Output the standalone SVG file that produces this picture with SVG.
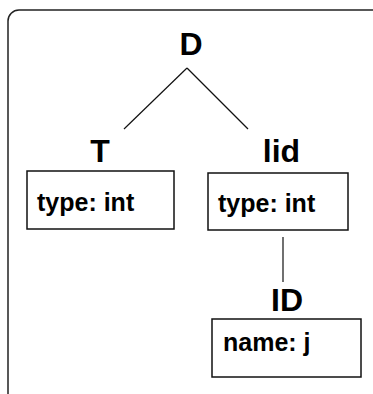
<svg xmlns="http://www.w3.org/2000/svg" width="373" height="394" viewBox="0 0 373 394">
  <style>
    .label { font-family: "Liberation Sans", Arial, Helvetica, sans-serif; font-weight: bold; font-size: 32px; fill: #000; text-anchor: middle; }
    .attr { font-family: "Liberation Sans", Arial, Helvetica, sans-serif; font-weight: bold; font-size: 25px; fill: #000; }
    .box { fill: #fff; stroke: #111; stroke-width: 1.5; }
    .edge { stroke: #111; stroke-width: 1.2; fill: none; }
  </style>
  <rect width="373" height="394" fill="#fff"/>
  <!-- outer frame, running off the right and bottom edges -->
  <rect x="8" y="10" width="376" height="400" rx="11" ry="11" fill="none" stroke="#222" stroke-width="1.5"/>

  <g id="connectors">
    <line class="edge" x1="187" y1="68" x2="124" y2="129"/>
    <line class="edge" x1="187" y1="68" x2="248" y2="129"/>
    <line class="edge" x1="283" y1="237" x2="283" y2="282"/>
  </g>

  <g id="node-D">
    <text class="label" x="191" y="55">D</text>
  </g>

  <g id="node-T">
    <text class="label" x="100" y="162">T</text>
    <rect class="box" x="27" y="171" width="147" height="58"/>
    <text class="attr" x="37" y="211">type: int</text>
  </g>

  <g id="node-lid">
    <text class="label" x="281.5" y="162">lid</text>
    <rect class="box" x="208" y="173" width="140" height="57"/>
    <text class="attr" x="218" y="212">type: int</text>
  </g>

  <g id="node-ID">
    <text class="label" x="287" y="311">ID</text>
    <rect class="box" x="212" y="319" width="149" height="58"/>
    <text class="attr" x="223" y="351">name: j</text>
  </g>
</svg>
